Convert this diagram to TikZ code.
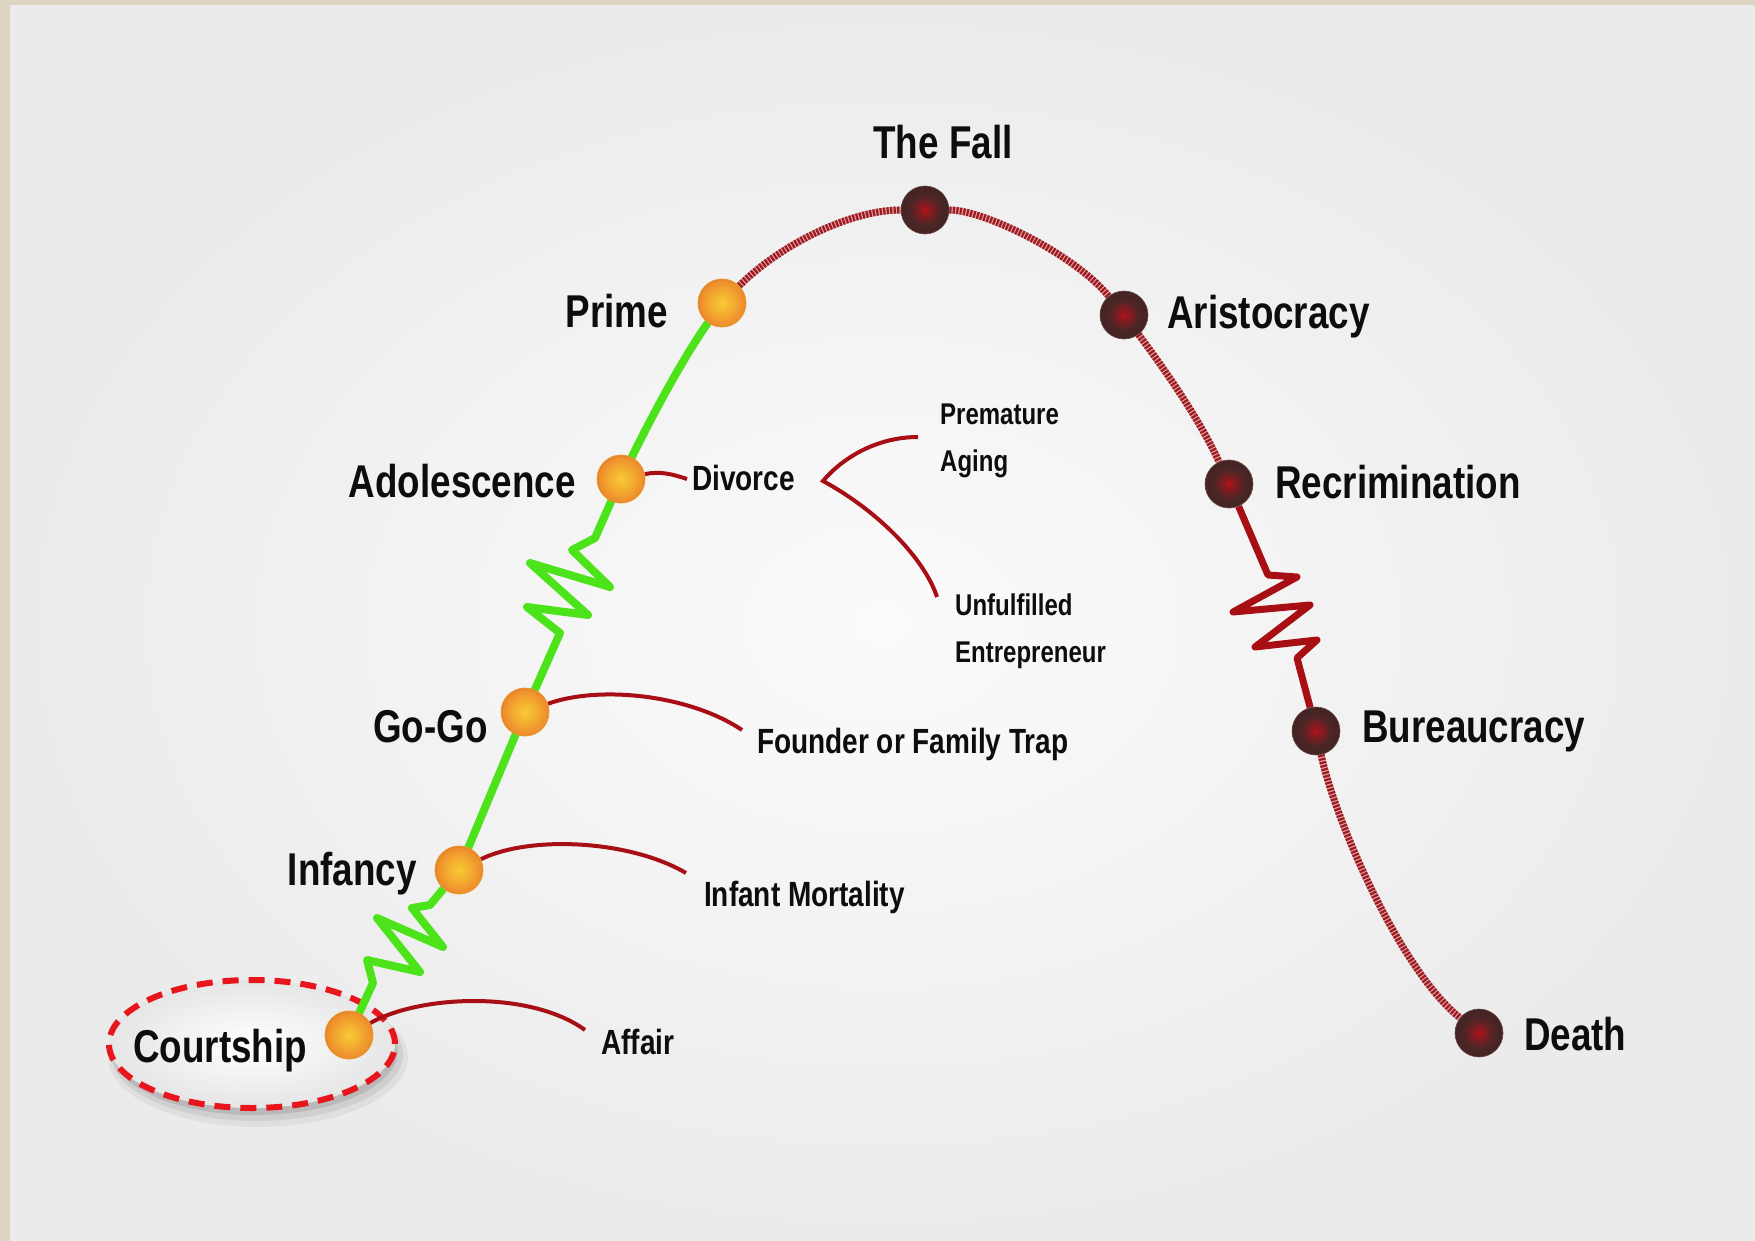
\documentclass[tikz,border=0pt]{standalone}
\usepackage{fontspec}
\setmainfont{Liberation Sans}[FakeStretch=0.80]
\usetikzlibrary{shapes.geometric}
\definecolor{beige}{HTML}{DCD3C3}
\definecolor{bgedge}{HTML}{EBEBEB}
\definecolor{bgmid}{HTML}{FBFBFB}
\definecolor{grn}{HTML}{4DE31A}
\definecolor{dred}{HTML}{A80F14}
\definecolor{hatchdark}{HTML}{9E1A22}
\definecolor{hatchlight}{HTML}{DDA3A3}
\definecolor{courtred}{HTML}{E8151C}
\definecolor{oyellow}{HTML}{F8C934}
\definecolor{oorange}{HTML}{EE8E2D}
\definecolor{dbrown}{HTML}{4B2626}
\definecolor{dcenter}{HTML}{B3121A}
\pgfdeclareradialshading{oball}{\pgfpoint{0bp}{0bp}}{color(0bp)=(oyellow); color(10bp)=(oyellow!60!oorange); color(23bp)=(oorange); color(25bp)=(oorange!92!black); color(50bp)=(oorange!92!black)}
\pgfdeclareradialshading{dball}{\pgfpoint{0bp}{0bp}}{color(0bp)=(dcenter); color(6bp)=(dcenter!55!dbrown); color(16bp)=(dbrown); color(25bp)=(dbrown!92!black); color(50bp)=(dbrown)}
\pgfdeclarelayer{bg}
\pgfdeclarelayer{mid}
\pgfsetlayers{bg,mid,main}
\tikzset{
 odot/.style={circle, minimum size=48pt, inner sep=0pt, shade, shading=oball, draw=oorange!85!oyellow, line width=0.8pt},
 ddot/.style={circle, minimum size=48pt, inner sep=0pt, shade, shading=dball, draw=dbrown!85!white, line width=0.6pt},
 biglbl/.style={inner sep=0pt, font=\bfseries\fontsize{46}{50}\selectfont, text=black!95},
 smalllbl/.style={inner sep=0pt, font=\bfseries\fontsize{35}{40}\selectfont, text=black!95},
 tinylbl/.style={inner sep=0pt, font=\bfseries\fontsize{30}{40}\selectfont, text=black!95},
 greenln/.style={draw=grn, line width=8pt, line join=round, line cap=round},
 redzig/.style={draw=dred, line width=7pt, line join=round},
 hatchln/.style={draw=hatchlight, line width=7pt, postaction={draw=hatchdark, line width=7pt, dash pattern=on 2.2pt off 1.3pt}},
 conn/.style={draw=dred, line width=4pt},
 courtell/.style={ellipse, minimum width=286pt, minimum height=128pt, inner sep=0pt, inner color=white, outer color=black!10, draw=courtred, line width=6pt, dash pattern=on 16pt off 10pt},
}
\begin{document}
\begin{tikzpicture}[x=1pt,y=-1pt]
\useasboundingbox (0,0) rectangle (1755,1241);
\begin{pgfonlayer}{bg}
 \fill[beige] (0,0) rectangle (1755,1241);
 \shade[inner color=bgmid, outer color=bgedge] (10,6) rectangle (1755,1241);
 \fill[black,opacity=0.05] (258,1057) ellipse (150pt and 70pt);
 \fill[black,opacity=0.07] (257,1054) ellipse (146pt and 67pt);
 \fill[black,opacity=0.10] (255,1051) ellipse (143pt and 64pt);
 \node[courtell] (cbox) at (252,1044) {};
\end{pgfonlayer}
% stage dots
\node[odot] (court) at (349,1035) {};
\node[odot] (inf) at (459,870) {};
\node[odot] (gogo) at (525,712) {};
\node[odot] (ado) at (621,479) {};
\node[odot] (prime) at (722,303) {};
\node[ddot] (fall) at (925,210) {};
\node[ddot] (ari) at (1124,315) {};
\node[ddot] (rec) at (1229,484) {};
\node[ddot] (bur) at (1316,731) {};
\node[ddot] (death) at (1479,1033) {};
% stage labels
\node[biglbl, anchor=base] (tFall) at (943,159) {The Fall};
\node[biglbl, anchor=base east] (tPrime) at (668,327) {Prime};
\node[biglbl, anchor=base west] (tAri) at (1167,328) {Aristocracy};
\node[biglbl, anchor=base east] (tAdo) at (576,497) {Adolescence};
\node[biglbl, anchor=base west] (tRec) at (1275,498) {Recrimination};
\node[biglbl, anchor=base east] (tGo) at (488,742) {Go-Go};
\node[biglbl, anchor=base west] (tBur) at (1362,742) {Bureaucracy};
\node[biglbl, anchor=base east] (tInf) at (417,885) {Infancy};
\node[biglbl, anchor=base west] (tCourt) at (133,1062) {Courtship};
\node[biglbl, anchor=base west] (tDeath) at (1524,1050) {Death};
% trap labels
\node[smalllbl, anchor=base west] (tDiv) at (692,490) {Divorce};
\node[tinylbl, anchor=base west] (tPre) at (940,424) {Premature};
\node[tinylbl, anchor=base west] (tAging) at (940,471) {Aging};
\node[tinylbl, anchor=base west] (tUnf) at (955,615) {Unfulfilled};
\node[tinylbl, anchor=base west] (tEnt) at (955,662) {Entrepreneur};
\node[smalllbl, anchor=base west] (tFound) at (757,753) {Founder or Family Trap};
\node[smalllbl, anchor=base west] (tInfM) at (704,906) {Infant Mortality};
\node[smalllbl, anchor=base west] (tAff) at (601,1054) {Affair};
% free ends
\coordinate (affEnd) at (585,1030);
\coordinate (imEnd) at (686,873);
\coordinate (ffEnd) at (742,730);
\coordinate (divEnd) at (687,479);
\coordinate (brk) at (823,481);
\coordinate (brkUp) at (918,437);
\coordinate (brkDn) at (937,597);
\begin{pgfonlayer}{mid}
 \draw[greenln] (court) -- (373,983) -- (367,960) -- (420,972) -- (377,918) -- (443,947) -- (412,908) -- (430,905) -- (inf);
 \draw[greenln] (inf) -- (gogo);
 \draw[greenln] (gogo) -- (560,633) -- (527,607) -- (588,615) -- (530,563) -- (610,587) -- (572,550) -- (595,538) -- (ado);
 \draw[greenln] (ado) .. controls (655,410) and (685,355) .. (prime);
 \draw[hatchln] (prime) .. controls (780,245) and (850,210) .. (fall);
 \draw[hatchln] (fall) .. controls (985,210) and (1075,255) .. (ari);
 \draw[hatchln] (ari) .. controls (1165,370) and (1200,420) .. (rec);
 \draw[redzig] (rec) -- (1268,575) -- (1297,577) -- (1233,612) -- (1310,605) -- (1255,647) -- (1317,640) -- (1297,658) -- (1310,707) -- (bur);
 \draw[hatchln] (bur) .. controls (1335,820) and (1400,970) .. (death);
 \draw[conn] (court) .. controls (420,995) and (530,990) .. (affEnd);
 \draw[conn] (inf) .. controls (530,835) and (630,840) .. (imEnd);
 \draw[conn] (gogo) .. controls (600,685) and (690,695) .. (ffEnd);
 \draw[conn] (ado) .. controls (660,471) and (672,474) .. (divEnd);
 \draw[conn] (brkUp) .. controls (880,437) and (845,455) .. (brk) .. controls (880,512) and (925,560) .. (brkDn);
\end{pgfonlayer}
\end{tikzpicture}
\end{document}
